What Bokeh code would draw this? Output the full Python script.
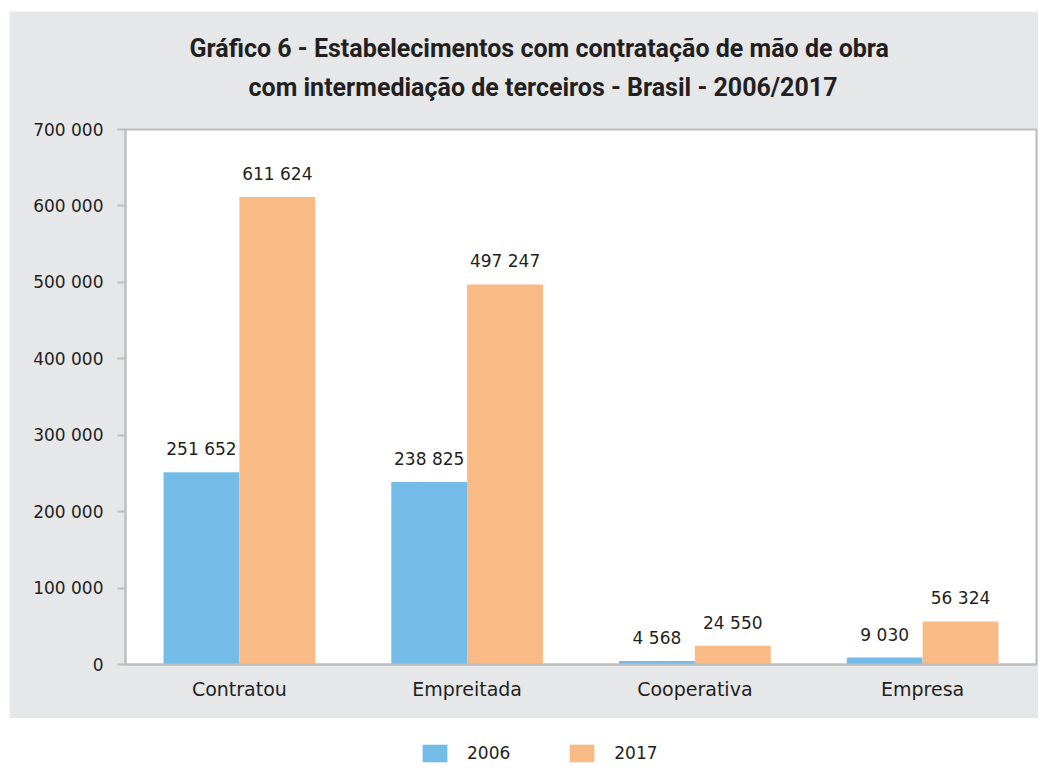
from bokeh.plotting import figure
from bokeh.models import (ColumnDataSource, FactorRange, Range1d, FixedTicker, Title,
                          Legend, LegendItem, Spacer)
from bokeh.transform import dodge
from bokeh.layouts import column, row
from bokeh.core.properties import value
from bokeh.embed import file_html
from bokeh.resources import INLINE

categories = ["Contratou", "Empreitada", "Cooperativa", "Empresa"]
series_names = ["2006", "2017"]
values_2006 = [251652, 238825, 4568, 9030]
values_2017 = [611624, 497247, 24550, 56324]
y_ticks = [0, 100000, 200000, 300000, 400000, 500000, 600000, 700000]
y_tick_labels = ["0", "100 000", "200 000", "300 000", "400 000", "500 000", "600 000", "700 000"]
title_line1 = "Gráfico 6 - Estabelecimentos com contratação de mão de obra"
title_line2 = "com intermediação de terceiros - Brasil - 2006/2017"

BLUE = "#74BCE7"
ORANGE = "#F9BB85"
GRAY_BG = "#E6E7E9"
AXIS = "#BCBEC0"
TEXT = "#231F20"
FONT = "DejaVu Sans"
TITLE_FONT = "Roboto"

def fmt(v):
    return f"{v:,}".replace(",", " ")

src = ColumnDataSource(dict(
    cat=categories,
    v2006=values_2006,
    v2017=values_2017,
    l2006=[fmt(v) for v in values_2006],
    l2017=[fmt(v) for v in values_2017],
))

p = figure(x_range=FactorRange(*categories), y_range=Range1d(0, 700000),
           width=1029, height=707, output_backend="svg", toolbar_location=None,
           title=None, min_border_left=116, min_border_right=2,
           min_border_top=118, min_border_bottom=54)
p.border_fill_color = GRAY_BG
p.background_fill_color = "white"
p.outline_line_color = AXIS
p.outline_line_width = 2

bw = 0.333
r1 = p.vbar(x=dodge("cat", -bw / 2, range=p.x_range), top="v2006", width=bw, source=src,
            fill_color=BLUE, line_color=None)
r2 = p.vbar(x=dodge("cat", bw / 2, range=p.x_range), top="v2017", width=bw, source=src,
            fill_color=ORANGE, line_color=None)

for col, lab, off in [("v2006", "l2006", -bw / 2), ("v2017", "l2017", bw / 2)]:
    p.text(x=dodge("cat", off, range=p.x_range), y=col, text=lab, source=src,
           text_align="center", text_baseline="bottom", y_offset=-13,
           text_font=value(FONT), text_font_size="17px", text_color=TEXT)

p.xgrid.grid_line_color = None
p.ygrid.grid_line_color = None

p.yaxis.ticker = FixedTicker(ticks=y_ticks)
p.yaxis.major_label_overrides = {t: l for t, l in zip(y_ticks, y_tick_labels)}
p.yaxis.major_tick_out = 8
p.yaxis.major_tick_in = 0
p.yaxis.minor_tick_line_color = None
p.yaxis.major_tick_line_color = AXIS
p.yaxis.major_tick_line_width = 2
p.yaxis.axis_line_color = AXIS
p.yaxis.axis_line_width = 2
p.yaxis.major_label_standoff = 14
p.yaxis.major_label_text_font = FONT
p.yaxis.major_label_text_font_size = "17px"
p.yaxis.major_label_text_color = TEXT

p.xaxis.major_tick_line_color = None
p.xaxis.minor_tick_line_color = None
p.xaxis.axis_line_color = AXIS
p.xaxis.axis_line_width = 2
p.xaxis.major_label_standoff = 7
p.xaxis.major_label_text_font = FONT
p.xaxis.major_label_text_font_size = "19px"
p.xaxis.major_label_text_color = TEXT

# title: spacer line closest to the frame, then line 2, then line 1
p.add_layout(Title(text=" ", text_font_size="20px", standoff=0), "above")
for line, off in [(title_line2, 123), (title_line1, 64)]:
    p.add_layout(Title(text=line, align="left", offset=off, text_font=TITLE_FONT,
                       text_font_size="25px", text_font_style="bold",
                       text_color=TEXT, standoff=8), "above")

# legend strip below the gray panel
pleg = figure(width=1038, height=46, output_backend="svg", toolbar_location=None,
              x_range=Range1d(0, 1), y_range=Range1d(0, 1),
              x_axis_location=None, y_axis_location=None,
              min_border=0, min_border_left=0, min_border_right=0,
              min_border_top=0, min_border_bottom=0)
pleg.grid.visible = False
pleg.outline_line_color = None
pleg.border_fill_color = "white"
pleg.background_fill_color = "white"
d1 = pleg.vbar(x=[2], top=[-5], width=0.1, fill_color=BLUE, line_color=None)
d2 = pleg.vbar(x=[2], top=[-5], width=0.1, fill_color=ORANGE, line_color=None)
leg = Legend(items=[LegendItem(label=series_names[0], renderers=[d1]),
                    LegendItem(label=series_names[1], renderers=[d2])],
             orientation="horizontal", location=(419, 0),
             glyph_width=31, glyph_height=22, label_standoff=17, spacing=56,
             padding=0, margin=0, border_line_color=None, background_fill_alpha=0,
             label_text_font=FONT, label_text_font_size="17px", label_text_color=TEXT)
pleg.add_layout(leg, "center")

layout = column(Spacer(height=11), row(Spacer(width=9), p, spacing=0), pleg, spacing=0)
open("out.html", "w").write(file_html(layout, INLINE))
